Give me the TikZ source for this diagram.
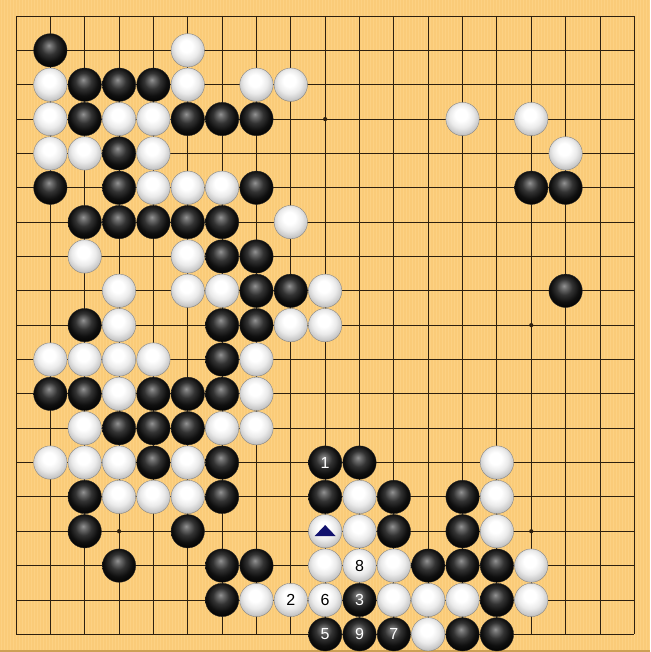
\documentclass[tikz,border=0pt]{standalone}
\usepackage{fontspec}
\setmainfont{Liberation Sans}
\usetikzlibrary{calc}
\definecolor{boardbg}{RGB}{250,203,120}
\definecolor{boardlt}{RGB}{252,209,131}
\definecolor{boardedge}{RGB}{205,160,85}
\definecolor{gridc}{RGB}{45,32,15}
\definecolor{tri}{RGB}{18,18,110}
\pgfdeclareradialshading{bstoneshade}{\pgfpoint{-2.5bp}{7.5bp}}{color(0bp)=(black!42); color(4bp)=(black!56); color(12bp)=(black!80); color(21bp)=(black!94); color(30bp)=(black); color(50bp)=(black)}
\pgfdeclareradialshading{wstoneshade}{\pgfpoint{-2.5bp}{7.5bp}}{color(0bp)=(white); color(9bp)=(white); color(18bp)=(black!8); color(26bp)=(black!22); color(32bp)=(black!40); color(50bp)=(black!40)}
\tikzset{
  stonebase/.style={circle, minimum size=33.4pt, inner sep=0pt, line width=0.35pt, font=\fontsize{16}{16}\selectfont},
  bst/.style={stonebase, shading=bstoneshade, draw=black!85, text=white},
  wst/.style={stonebase, shading=wstoneshade, draw=black!50, text=black},
  gridline/.style={draw=gridc, line width=0.9pt},
  hoshi/.style={circle, fill=gridc, inner sep=0pt, minimum size=4.2pt}
}
\begin{document}
\begin{tikzpicture}[x=1pt,y=-1pt]
\useasboundingbox (0,0) rectangle (650,652);
\fill[boardbg] (0,0) rectangle (650,652);
\foreach \x in {1,4,...,649} \fill[boardlt] (\x,0) rectangle (\x+1.2,652);
\fill[boardedge] (0,649.6) rectangle (650,652);
\def\s{34.35}
\foreach \i in {0,...,18} {
  \draw[gridline] ({16+\i*\s},16) -- ({16+\i*\s},{16+18*\s});
  \draw[gridline] (16,{16+\i*\s}) -- ({16+18*\s},{16+\i*\s});
}
\foreach \c in {4,10,16} \foreach \r in {4,10,16}
  \node[hoshi] (h-\c-\r) at ({16+(\c-1)*\s},{16+(\r-1)*\s}) {};
% black stones
\foreach \c/\r in {2/2, 3/3,4/3,5/3, 3/4,6/4,7/4,8/4, 4/5,
  2/6,4/6,8/6,16/6,17/6, 3/7,4/7,5/7,6/7,7/7, 7/8,8/8, 8/9,9/9,17/9,
  3/10,7/10,8/10, 7/11, 2/12,3/12,5/12,6/12,7/12, 4/13,5/13,6/13,
  5/14,7/14,11/14, 3/15,7/15,10/15,12/15,14/15, 3/16,6/16,12/16,14/16,
  4/17,7/17,8/17,13/17,14/17,15/17, 7/18,15/18, 14/19,15/19}
  \node[bst] (b-\c-\r) at ({16+(\c-1)*\s},{16+(\r-1)*\s}) {};
\foreach \c/\r/\t in {10/14/1, 11/18/3, 10/19/5, 12/19/7, 11/19/9}
  \node[bst] (b-\c-\r) at ({16+(\c-1)*\s},{16+(\r-1)*\s}) {\t};
% white stones
\foreach \c/\r in {6/2, 2/3,6/3,8/3,9/3, 2/4,4/4,5/4,14/4,16/4, 2/5,3/5,5/5,17/5,
  5/6,6/6,7/6, 9/7, 3/8,6/8, 4/9,6/9,7/9,10/9, 4/10,9/10,10/10,
  2/11,3/11,4/11,5/11,8/11, 4/12,8/12, 3/13,7/13,8/13,
  2/14,3/14,4/14,6/14,15/14, 4/15,5/15,6/15,11/15,15/15,
  10/16,11/16,15/16, 10/17,12/17,16/17, 8/18,12/18,13/18,14/18,16/18, 13/19}
  \node[wst] (w-\c-\r) at ({16+(\c-1)*\s},{16+(\r-1)*\s}) {};
\foreach \c/\r/\t in {11/17/8, 9/18/2, 10/18/6}
  \node[wst] (w-\c-\r) at ({16+(\c-1)*\s},{16+(\r-1)*\s}) {\t};
% triangle mark
\fill[tri] ($(w-10-16)+(0,-6.2)$) -- ($(w-10-16)+(10.5,4.8)$) -- ($(w-10-16)+(-10.5,4.8)$) -- cycle;
\end{tikzpicture}
\end{document}
